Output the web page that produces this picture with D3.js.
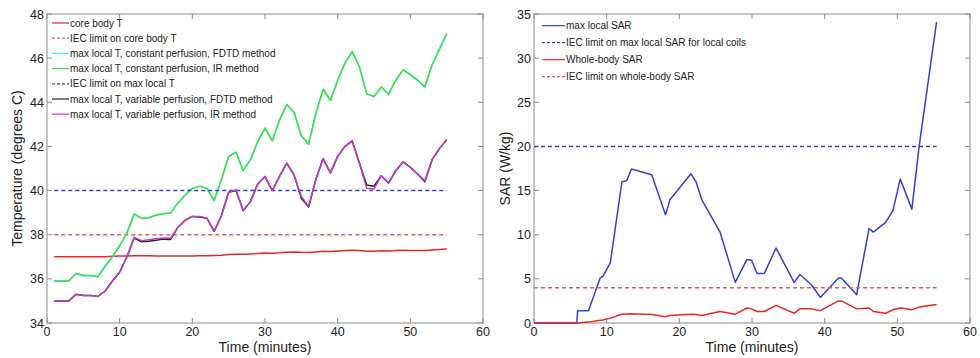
<!DOCTYPE html>
<html>
<head>
<meta charset="utf-8">
<script src="https://cdn.jsdelivr.net/npm/d3@7/dist/d3.min.js"></script>
<style>
  body { margin: 0; background: #fff; }
  svg { font-family: "Liberation Sans", Arial, sans-serif; }
</style>
</head>
<body>
<svg id="chart" width="980" height="358"></svg>
<script>
// ---- left panel data (temperature, degrees C) ----
const minutes = [1,2,3,4,5,6,7,8,9,10,11,12,13,14,15,16,17,18,19,20,21,22,23,24,25,26,27,28,29,30,
  31,32,33,34,35,36,37,38,39,40,41,42,43,44,45,46,47,48,49,50,51,52,53,54,55];
const coreBodyT = [37.0,37.0,37.0,37.0,37.0,37.0,37.0,37.0,37.02,37.03,37.04,37.05,37.05,37.05,37.04,37.04,37.03,37.03,37.03,37.04,
  37.05,37.05,37.06,37.07,37.1,37.12,37.11,37.13,37.15,37.17,37.16,37.18,37.21,37.22,37.2,37.19,37.22,37.25,37.24,37.26,
  37.28,37.3,37.28,37.25,37.25,37.27,37.26,37.28,37.3,37.29,37.29,37.28,37.31,37.33,37.35];
const constFDTD = [35.9,35.9,35.9,36.24,36.15,36.15,36.1,36.57,37.0,37.5,38.08,38.94,38.74,38.77,38.88,38.95,38.98,39.43,39.8,40.1,
  40.2,40.1,39.55,40.5,41.54,41.74,40.9,41.4,42.22,42.83,42.25,43.2,43.9,43.54,42.48,42.1,43.5,44.59,44.08,45.0,
  45.77,46.3,45.6,44.38,44.26,44.7,44.36,45.0,45.47,45.25,45.0,44.7,45.7,46.4,47.1];
const constIR = [35.9,35.9,35.9,36.24,36.15,36.15,36.1,36.57,37.0,37.5,38.08,38.94,38.74,38.77,38.88,38.95,38.98,39.43,39.8,40.1,
  40.2,40.1,39.55,40.5,41.54,41.74,40.9,41.4,42.22,42.83,42.25,43.2,43.9,43.54,42.48,42.1,43.5,44.59,44.08,45.0,
  45.77,46.3,45.6,44.38,44.26,44.7,44.36,45.0,45.47,45.25,45.0,44.7,45.7,46.4,47.1];
const varFDTD = [35.0,35.0,35.0,35.3,35.25,35.25,35.2,35.45,35.9,36.3,37.0,37.85,37.68,37.7,37.75,37.8,37.78,38.33,38.65,38.83,
  38.8,38.75,38.15,38.86,39.92,40.0,39.1,39.5,40.3,40.64,40.0,40.64,41.24,40.7,39.65,39.25,40.5,41.45,40.8,41.55,
  42.0,42.25,41.24,40.25,40.2,40.67,40.34,40.9,41.3,41.05,40.75,40.4,41.4,41.9,42.3];
const varIR = [35.0,35.0,35.0,35.3,35.25,35.25,35.2,35.45,35.9,36.3,37.0,37.88,37.73,37.77,37.82,37.85,37.84,38.33,38.65,38.83,
  38.83,38.75,38.15,38.86,39.92,40.04,39.1,39.5,40.3,40.64,40.0,40.64,41.24,40.7,39.73,39.28,40.5,41.45,40.8,41.55,
  42.0,42.25,41.24,40.1,40.07,40.67,40.34,40.9,41.3,41.05,40.75,40.45,41.4,41.9,42.3];
const iecCoreT = 38;
const iecLocalT = 40;
const tempTicks = [34,36,38,40,42,44,46,48];

// ---- right panel data (SAR, W/kg) ----
const sarTime = [0,5.9,6.0,7.5,9.1,9.5,10.5,12.1,12.75,13.4,16.2,18.1,18.7,21.6,22.3,23.1,25.6,27.7,29.3,29.95,
  30.7,31.7,33.3,35.8,36.6,38.2,39.4,41.9,42.3,44.4,46.1,46.7,48.4,49.4,50.4,52.0,53.0,55.4];
const maxLocalSAR = [0,0,1.4,1.4,5.1,5.3,6.8,16.0,16.1,17.45,16.8,12.25,13.95,16.9,16.0,13.95,10.3,4.6,7.2,7.1,
  5.6,5.6,8.5,4.6,5.5,4.3,2.9,5.1,5.1,3.2,10.7,10.3,11.4,12.75,16.3,12.9,20.0,34.1];
const wholeBodySAR = [0,0,0,0.1,0.3,0.35,0.55,1.0,1.02,1.05,0.95,0.7,0.85,1.0,0.95,0.85,1.3,1.0,1.7,1.6,
  1.3,1.3,2.0,1.1,1.6,1.6,1.4,2.5,2.5,1.6,1.7,1.3,1.1,1.5,1.7,1.5,1.8,2.1];
const iecLocalSAR = 20;
const iecWholeSAR = 4;
const sarTicks = [0,5,10,15,20,25,30,35];
const timeTicks = [0,10,20,30,40,50,60];

const svg = d3.select("#chart");
const plotTop = 14, plotBottom = 323;

function drawPanel(opts) {
  const g = svg.append("g");
  const x = d3.scaleLinear().domain([0, 60]).range([opts.left, opts.right]);
  const y = d3.scaleLinear().domain(opts.yDomain).range([plotBottom, plotTop]);

  // frame + inner ticks (matlab style)
  g.append("rect")
    .attr("x", opts.left).attr("y", plotTop)
    .attr("width", opts.right - opts.left).attr("height", plotBottom - plotTop)
    .attr("fill", "none").attr("stroke", "#8c8c8c").attr("stroke-width", 1);

  const tickLen = 5;
  timeTicks.forEach(t => {
    g.append("line").attr("x1", x(t)).attr("x2", x(t)).attr("y1", plotBottom).attr("y2", plotBottom - tickLen).attr("stroke", "#8c8c8c");
    g.append("line").attr("x1", x(t)).attr("x2", x(t)).attr("y1", plotTop).attr("y2", plotTop + tickLen).attr("stroke", "#8c8c8c");
    g.append("text").attr("x", x(t)).attr("y", plotBottom + 13)
      .attr("text-anchor", "middle").style("font-size", "12.5px").attr("fill", "#222").text(t);
  });
  opts.yTicks.forEach(v => {
    g.append("line").attr("x1", opts.left).attr("x2", opts.left + tickLen).attr("y1", y(v)).attr("y2", y(v)).attr("stroke", "#8c8c8c");
    g.append("line").attr("x1", opts.right).attr("x2", opts.right - tickLen).attr("y1", y(v)).attr("y2", y(v)).attr("stroke", "#8c8c8c");
    g.append("text").attr("x", opts.left - 3).attr("y", y(v) + 4.5)
      .attr("text-anchor", "end").style("font-size", "12.5px").attr("fill", "#222").text(v);
  });

  // axis titles
  g.append("text").attr("x", (opts.left + opts.right) / 2).attr("y", 352)
    .attr("text-anchor", "middle").style("font-size", "14px").attr("fill", "#222").text("Time (minutes)");
  g.append("text")
    .attr("transform", `translate(${opts.yTitleX},${(plotTop + plotBottom) / 2}) rotate(-90)`)
    .attr("text-anchor", "middle").style("font-size", "14px").attr("fill", "#222").text(opts.yTitle);

  const line = d3.line().x(d => x(d[0])).y(d => y(d[1]));

  opts.series.forEach(s => {
    let pts;
    if (s.constant !== undefined) {
      pts = [[s.from, s.constant], [s.to, s.constant]];
    } else {
      pts = s.xs.map((t, i) => [t, s.ys[i]]);
    }
    g.append("path").datum(pts)
      .attr("d", line)
      .attr("fill", "none")
      .attr("stroke", s.color)
      .attr("stroke-width", s.width || 1.5)
      .attr("stroke-dasharray", s.dashed ? "4,3" : null)
      .attr("stroke-linejoin", "round");
  });

  // legend
  const leg = opts.legend;
  leg.items.forEach((s, i) => {
    const ly = leg.y + i * leg.step;
    g.append("line").attr("x1", leg.x).attr("x2", leg.x + leg.lineLen).attr("y1", ly).attr("y2", ly)
      .attr("stroke", s.color).attr("stroke-width", 1.2)
      .attr("stroke-dasharray", s.dashed ? "3,2" : null);
    g.append("text").attr("x", leg.x + leg.lineLen + 1).attr("y", ly + 3.5)
      .style("font-size", leg.fontSize).attr("fill", "#222").text(s.label);
  });
}

const cRed = "#e8262a", cGreen = "#3ee03e", cCyan = "#3ee8ff", cBlue = "#3340d0",
      cBlack = "#222", cPurple = "#c03cc8", cRedDash = "#e06060";

const leftSeries = [
  { label: "core body T", xs: minutes, ys: coreBodyT, color: cRed },
  { label: "IEC limit on core body T", constant: iecCoreT, from: 1, to: 55, color: cRedDash, dashed: true },
  { label: "max local T, constant perfusion, FDTD method", xs: minutes, ys: constFDTD, color: cCyan },
  { label: "max local T, constant perfusion, IR method", xs: minutes, ys: constIR, color: cGreen },
  { label: "IEC limit on max local T", constant: iecLocalT, from: 1, to: 55, color: cBlue, dashed: true },
  { label: "max local T, variable perfusion, FDTD method", xs: minutes, ys: varFDTD, color: cBlack },
  { label: "max local T, variable perfusion, IR method", xs: minutes, ys: varIR, color: cPurple }
];

drawPanel({
  left: 47, right: 483, yDomain: [34, 48], yTicks: tempTicks,
  yTitle: "Temperature (degrees C)", yTitleX: 22,
  series: leftSeries,
  legend: { x: 52, y: 23, step: 15.2, lineLen: 17, fontSize: "10px", items: leftSeries }
});

const rightSeries = [
  { label: "max local SAR", xs: sarTime, ys: maxLocalSAR, color: cBlue },
  { label: "IEC limit on max local SAR for local coils", constant: iecLocalSAR, from: 0, to: 55.4, color: cBlue, dashed: true },
  { label: "Whole-body SAR", xs: sarTime, ys: wholeBodySAR, color: cRed },
  { label: "IEC limit on whole-body SAR", constant: iecWholeSAR, from: 0, to: 55.4, color: cRedDash, dashed: true }
];

drawPanel({
  left: 534, right: 970, yDomain: [0, 35], yTicks: sarTicks,
  yTitle: "SAR (W/kg)", yTitleX: 510,
  series: rightSeries,
  legend: { x: 542, y: 25.7, step: 17, lineLen: 23, fontSize: "10px", items: rightSeries }
});
</script>
</body>
</html>
